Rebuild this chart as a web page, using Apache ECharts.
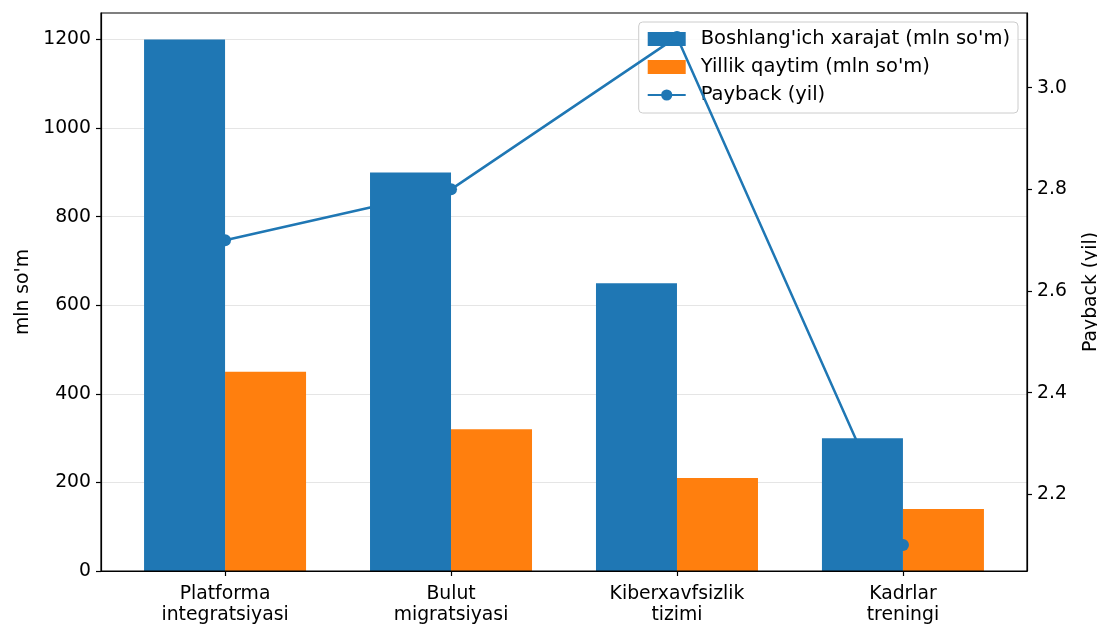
<!DOCTYPE html>
<html>
<head>
<meta charset="utf-8">
<script src="https://cdn.jsdelivr.net/npm/echarts@6/dist/echarts.min.js"></script>
<style>html,body{margin:0;padding:0;background:#fff}#c{width:1097px;height:624px}</style>
</head>
<body>
<div id="c"></div>
<script>
const categories = ["Platforma\nintegratsiyasi", "Bulut\nmigratsiyasi", "Kiberxavfsizlik\ntizimi", "Kadrlar\ntreningi"];
const initialCost = [1200, 900, 650, 300];
const annualReturn = [450, 320, 210, 140];
const payback = [2.7, 2.8, 3.1, 2.1];
const leftTicks = [0, 200, 400, 600, 800, 1000, 1200];
const rightTicks = [2.2, 2.4, 2.6, 2.8, 3.0];
const seriesNames = ["Boshlang'ich xarajat (mln so'm)", "Yillik qaytim (mln so'm)", "Payback (yil)"];

const idx = categories.map((_, i) => i);
const FONT = 'DejaVu Sans';
const FS = 18.8;
const chart = echarts.init(document.getElementById('c'), null, {renderer: 'canvas'});
chart.setOption({
  animation: false,
  textStyle: {fontFamily: FONT},
  grid: {left: 101, right: 70, top: 13, bottom: 53, outerBoundsMode: 'none', containLabel: false, show: true, borderColor: '#000', borderWidth: 1.2, backgroundColor: 'transparent', z: 20},
  legend: {
    orient: 'vertical', right: 79, top: 22,
    itemWidth: 38, itemHeight: 14, itemGap: 8,
    backgroundColor: 'rgba(255,255,255,0.85)', borderColor: '#cccccc', borderWidth: 1, borderRadius: 4,
    padding: [7, 8, 8, 8],
    textStyle: {fontFamily: FONT, fontSize: 19.5, color: '#000', padding: [0, 0, 0, 10]},
    data: [
      {name: seriesNames[0], icon: 'rect'},
      {name: seriesNames[1], icon: 'rect'},
      {name: seriesNames[2]}
    ],
    z: 1.5
  },
  xAxis: {
    type: 'value', min: -0.549, max: 3.549,
    axisLine: {show: true, onZero: false, lineStyle: {color: '#000', width: 1.2}},
    axisTick: {show: true, length: 5, lineStyle: {color: '#000', width: 1.2}, customValues: idx},
    axisLabel: {customValues: idx, formatter: v => categories[Math.round(v)] || '', fontFamily: FONT, fontSize: FS, color: '#000', lineHeight: 21.5, margin: 12, align: 'center'},
    splitLine: {show: false}
  },
  yAxis: [
    {
      type: 'value', min: 0, max: 1260, position: 'left', z: 0,
      name: "mln so'm", nameLocation: 'middle', nameGap: 68, nameRotate: 90,
      nameTextStyle: {fontFamily: FONT, fontSize: FS, color: '#000'},
      axisLine: {show: true, onZero: false, lineStyle: {color: '#000', width: 1.2}},
      axisTick: {show: true, length: 5, lineStyle: {color: '#000', width: 1.2}, customValues: leftTicks},
      axisLabel: {customValues: leftTicks, formatter: v => String(v), fontFamily: FONT, fontSize: FS, color: '#000', margin: 10},
      splitLine: {show: true, lineStyle: {color: 'rgba(0,0,0,0.1)', width: 1}}
    },
    {
      type: 'value', min: 2.049, max: 3.147, position: 'right',
      name: 'Payback (yil)', nameLocation: 'middle', nameGap: 55, nameRotate: 90,
      nameTextStyle: {fontFamily: FONT, fontSize: FS, color: '#000'},
      axisLine: {show: true, onZero: false, lineStyle: {color: '#000', width: 1.2}},
      axisTick: {show: true, length: 5, lineStyle: {color: '#000', width: 1.2}, customValues: rightTicks},
      axisLabel: {customValues: rightTicks, formatter: v => v.toFixed(1), fontFamily: FONT, fontSize: FS, color: '#000', margin: 10},
      splitLine: {show: false}
    }
  ],
  series: [
    {
      name: seriesNames[0], type: 'bar', yAxisIndex: 0, z: 3,
      barWidth: 81, barGap: '0%',
      itemStyle: {color: '#1f77b4'},
      data: idx.map(i => [i, initialCost[i]])
    },
    {
      name: seriesNames[1], type: 'bar', yAxisIndex: 0, z: 1,
      barWidth: 81, barGap: '0%',
      itemStyle: {color: '#ff7f0e'},
      data: idx.map(i => [i, annualReturn[i]])
    },
    {
      name: seriesNames[2], type: 'line', yAxisIndex: 1, z: 2,
      symbol: 'circle', symbolSize: 12,
      lineStyle: {color: '#1f77b4', width: 2.5},
      itemStyle: {color: '#1f77b4'},
      data: idx.map(i => [i, payback[i]])
    }
  ]
});
</script>
</body>
</html>
